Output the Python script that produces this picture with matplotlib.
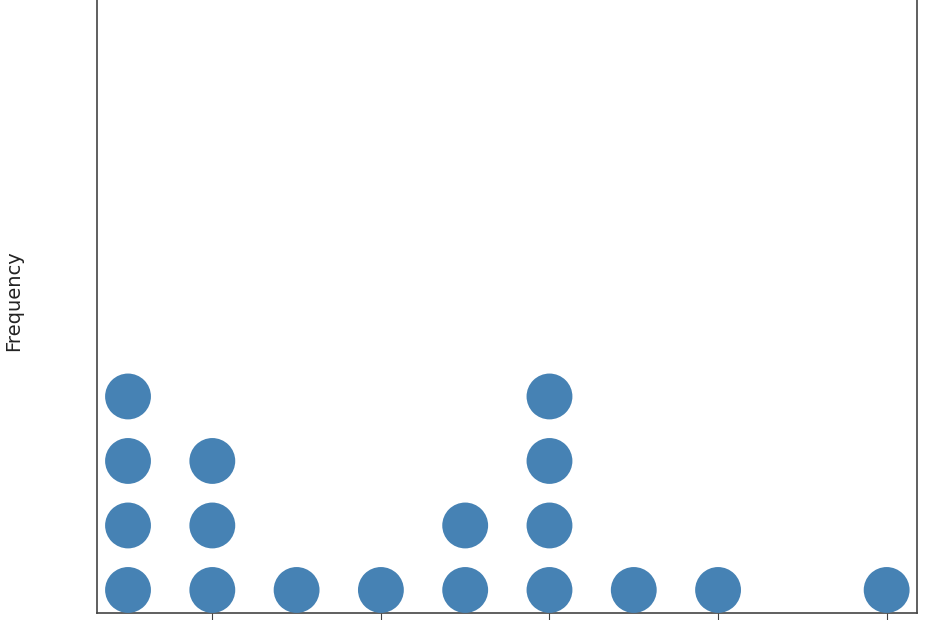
import numpy as np
import matplotlib
matplotlib.use("Agg")
import matplotlib.pyplot as plt

values = [1, 2, 3, 4, 5, 6, 7, 8, 10]
counts = [4, 3, 1, 1, 2, 4, 1, 1, 1]
xticks = [2, 4, 6, 8, 10]

xs = []
ys = []
for v, c in zip(values, counts):
    for k in range(1, c + 1):
        xs.append(v)
        ys.append(k)

fig = plt.figure(figsize=(9.3, 6.2), dpi=100)
# axes run past the top of the picture, ticks drop below it
ax = fig.add_axes([97 / 930, 7 / 620, 820 / 930, 1.1])

ax.scatter(xs, ys, s=1090, color="#4682b4", edgecolors="none", zorder=3)

ax.set_xlim(0.632, 10.36)
ax.set_ylim(0.643, 0.643 + (1.1 * 620) / 64.5)
ax.set_xticks(xticks)
ax.set_yticks([])
ax.tick_params(axis="x", length=7, color="#444444", labelbottom=False)

for s in ax.spines.values():
    s.set_color("#444444")
    s.set_linewidth(1.2)

fig.text(14 / 930, (620 - 301) / 620, "Frequency", rotation=90, ha="center", va="center",
         fontsize=14, color="#222222")

fig.savefig("out.png", dpi=100)
